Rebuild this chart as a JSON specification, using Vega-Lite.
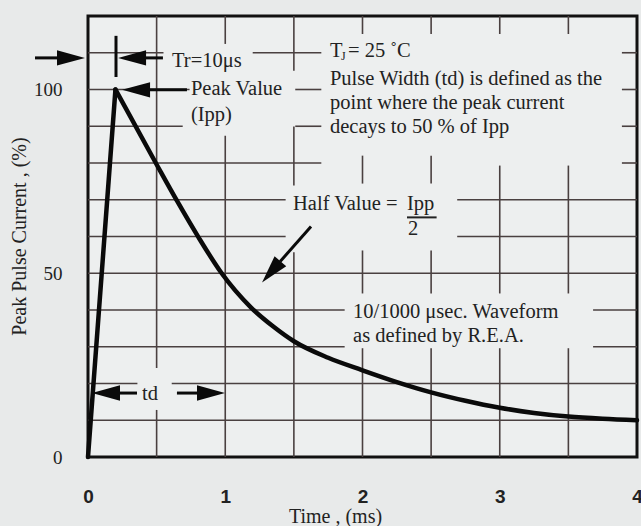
{
  "$schema": "https://vega.github.io/schema/vega-lite/v6.json",
  "width": 549,
  "height": 441,
  "autosize": {"type": "none"},
  "padding": {"left": 88, "top": 16, "right": 4, "bottom": 69},
  "background": "#e8eaea",
  "config": {
    "view": {"stroke": "#111111", "strokeWidth": 3, "fill": "#edefef"},
    "font": "Liberation Serif"
  },
  "datasets": {
    "grid": [
      {"t": 0, "t2": 0.55, "v": 110, "v2": 110},
      {"t": 1.2, "t2": 1.7, "v": 110, "v2": 110},
      {"t": 3.89, "t2": 4, "v": 110, "v2": 110},
      {"t": 0, "t2": 0.74, "v": 100, "v2": 100},
      {"t": 1.51, "t2": 1.7, "v": 100, "v2": 100},
      {"t": 3.89, "t2": 4, "v": 100, "v2": 100},
      {"t": 0, "t2": 0.69, "v": 90, "v2": 90},
      {"t": 1.51, "t2": 1.7, "v": 90, "v2": 90},
      {"t": 3.89, "t2": 4, "v": 90, "v2": 90},
      {"t": 0, "t2": 1.7, "v": 80, "v2": 80},
      {"t": 3.89, "t2": 4, "v": 80, "v2": 80},
      {"t": 0, "t2": 1.44, "v": 70, "v2": 70},
      {"t": 2.69, "t2": 4, "v": 70, "v2": 70},
      {"t": 0, "t2": 1.44, "v": 60, "v2": 60},
      {"t": 2.69, "t2": 4, "v": 60, "v2": 60},
      {"t": 0, "t2": 4, "v": 50, "v2": 50},
      {"t": 0, "t2": 1.87, "v": 40, "v2": 40},
      {"t": 3.68, "t2": 4, "v": 40, "v2": 40},
      {"t": 0, "t2": 1.87, "v": 30, "v2": 30},
      {"t": 3.68, "t2": 4, "v": 30, "v2": 30},
      {"t": 0, "t2": 0.36, "v": 20, "v2": 20},
      {"t": 0.61, "t2": 4, "v": 20, "v2": 20},
      {"t": 0, "t2": 4, "v": 10, "v2": 10},
      {"t": 0.5, "t2": 0.5, "v": 0, "v2": 12.8},
      {"t": 0.5, "t2": 0.5, "v": 24.2, "v2": 120},
      {"t": 1, "t2": 1, "v": 0, "v2": 87.4},
      {"t": 1, "t2": 1, "v": 112.4, "v2": 120},
      {"t": 1.5, "t2": 1.5, "v": 0, "v2": 55.7},
      {"t": 1.5, "t2": 1.5, "v": 73.9, "v2": 89.9},
      {"t": 1.5, "t2": 1.5, "v": 105.1, "v2": 120},
      {"t": 2, "t2": 2, "v": 0, "v2": 29.6},
      {"t": 2, "t2": 2, "v": 44.5, "v2": 56.2},
      {"t": 2, "t2": 2, "v": 74.4, "v2": 82},
      {"t": 2, "t2": 2, "v": 115.1, "v2": 120},
      {"t": 2.5, "t2": 2.5, "v": 0, "v2": 29.6},
      {"t": 2.5, "t2": 2.5, "v": 44.5, "v2": 56.2},
      {"t": 2.5, "t2": 2.5, "v": 74.4, "v2": 82},
      {"t": 2.5, "t2": 2.5, "v": 115.1, "v2": 120},
      {"t": 3, "t2": 3, "v": 0, "v2": 29.6},
      {"t": 3, "t2": 3, "v": 44.5, "v2": 79.3},
      {"t": 3, "t2": 3, "v": 115.1, "v2": 120},
      {"t": 3.5, "t2": 3.5, "v": 0, "v2": 29.6},
      {"t": 3.5, "t2": 3.5, "v": 44.5, "v2": 79.3},
      {"t": 3.5, "t2": 3.5, "v": 115.1, "v2": 120}
    ],
    "curve": [
      {"part": "rise", "t": 0, "v": 0},
      {"part": "rise", "t": 0.2, "v": 100},
      {"part": "decay", "t": 0.2, "v": 100},
      {"part": "decay", "t": 0.5, "v": 79.6},
      {"part": "decay", "t": 0.65, "v": 69.6},
      {"part": "decay", "t": 0.8, "v": 60.1},
      {"part": "decay", "t": 0.97, "v": 50.2},
      {"part": "decay", "t": 1.19, "v": 40.6},
      {"part": "decay", "t": 1.35, "v": 35.5},
      {"part": "decay", "t": 1.5, "v": 31.5},
      {"part": "decay", "t": 1.75, "v": 27.0},
      {"part": "decay", "t": 2.0, "v": 23.6},
      {"part": "decay", "t": 2.25, "v": 20.4},
      {"part": "decay", "t": 2.5, "v": 17.6},
      {"part": "decay", "t": 2.75, "v": 15.3},
      {"part": "decay", "t": 3.0, "v": 13.4},
      {"part": "decay", "t": 3.25, "v": 12.0},
      {"part": "decay", "t": 3.5, "v": 11.0},
      {"part": "decay", "t": 3.75, "v": 10.4},
      {"part": "decay", "t": 4.0, "v": 10.0}
    ],
    "shafts": [
      {"t": -0.386, "t2": -0.18, "v": 108.6, "v2": 108.6},
      {"t": 0.204, "t2": 0.204, "v": 103.4, "v2": 114.6},
      {"t": 0.4, "t2": 0.546, "v": 108.6, "v2": 108.6},
      {"t": 0.44, "t2": 0.721, "v": 99.9, "v2": 99.9},
      {"t": 1.4, "t2": 1.625, "v": 53.2, "v2": 62.7},
      {"t": 0.21, "t2": 0.357, "v": 17.4, "v2": 17.4},
      {"t": 0.648, "t2": 0.81, "v": 17.4, "v2": 17.4}
    ],
    "heads": [
      {"t": -0.022, "v": 108.6, "ang": 0},
      {"t": 0.219, "v": 108.6, "ang": 180},
      {"t": 0.248, "v": 99.9, "ang": 180},
      {"t": 1.268, "v": 47.5, "ang": 131},
      {"t": 0.029, "v": 17.4, "ang": 180},
      {"t": 0.998, "v": 17.4, "ang": 0}
    ],
    "underline": [
      {"t": 2.324, "t2": 2.54, "v": 65.2, "v2": 65.2}
    ],
    "notes": [
      {"t": 0.612, "v": 107.8, "label": "Tr=10μs"},
      {"t": 0.75, "v": 100.1, "label": "Peak Value"},
      {"t": 0.75, "v": 93.1, "label": "(Ipp)"},
      {"t": 1.763, "v": 110.5, "label": "T"},
      {"t": 1.894, "v": 110.5, "label": "= 25 ˚C"},
      {"t": 1.763, "v": 102.9, "label": "Pulse Width (td) is defined as the"},
      {"t": 1.763, "v": 96.3, "label": "point where the peak current"},
      {"t": 1.763, "v": 89.8, "label": "decays to 50 % of Ipp"},
      {"t": 1.494, "v": 68.8, "label": "Half Value ="},
      {"t": 2.324, "v": 68.8, "label": "Ipp"},
      {"t": 2.331, "v": 62.0, "label": "2"},
      {"t": 1.931, "v": 39.5, "label": "10/1000 μsec. Waveform"},
      {"t": 1.931, "v": 32.9, "label": "as defined by R.E.A."},
      {"t": 0.393, "v": 17.1, "label": "td"}
    ],
    "sub": [
      {"t": 1.843, "v": 109.1, "label": "J"}
    ]
  },
  "encoding": {
    "x": {
      "field": "t",
      "type": "quantitative",
      "title": "Time , (ms)",
      "scale": {"domain": [0, 4], "nice": false, "zero": false},
      "axis": {
        "values": [0, 1, 2, 3, 4],
        "grid": false,
        "ticks": false,
        "domain": false,
        "labelFont": "Liberation Sans",
        "labelFontSize": 19,
        "labelFontWeight": "bold",
        "labelColor": "#222222",
        "labelPadding": 39,
        "labelBaseline": "middle",
        "labelFlush": false,
        "labelOverlap": false,
        "titleFont": "Liberation Serif",
        "titleFontSize": 20,
        "titleFontWeight": "normal",
        "titleColor": "#222222",
        "titleX": 247,
        "titleY": 59,
        "titleAlign": "center",
        "titleBaseline": "middle"
      }
    },
    "y": {
      "field": "v",
      "type": "quantitative",
      "title": "Peak Pulse Current , (%)",
      "scale": {"domain": [0, 120], "nice": false},
      "axis": {
        "values": [0, 50, 100],
        "grid": false,
        "ticks": false,
        "domain": false,
        "labelFont": "Liberation Serif",
        "labelFontSize": 19,
        "labelColor": "#222222",
        "labelPadding": 26,
        "titleFont": "Liberation Serif",
        "titleFontSize": 20,
        "titleFontWeight": "normal",
        "titleColor": "#222222",
        "titleX": -69,
        "titleY": 220,
        "titleAngle": 270,
        "titleAlign": "center",
        "titleBaseline": "middle"
      }
    }
  },
  "layer": [
    {
      "data": {"name": "grid"},
      "mark": {"type": "rule", "color": "#4a4040", "strokeWidth": 1.6},
      "encoding": {"x2": {"field": "t2"}, "y2": {"field": "v2"}}
    },
    {
      "data": {"name": "curve"},
      "mark": {"type": "line", "color": "#0a0a0a", "strokeWidth": 4.5, "interpolate": "monotone", "strokeCap": "round"},
      "encoding": {"detail": {"field": "part"}}
    },
    {
      "data": {"name": "shafts"},
      "mark": {"type": "rule", "color": "#0a0a0a", "strokeWidth": 3},
      "encoding": {"x2": {"field": "t2"}, "y2": {"field": "v2"}}
    },
    {
      "data": {"name": "heads"},
      "mark": {"type": "point", "shape": "M0,0L-2,-0.55L-2,0.55Z", "size": 784, "filled": true, "color": "#0a0a0a", "opacity": 1, "strokeWidth": 0},
      "encoding": {"angle": {"field": "ang", "type": "quantitative", "scale": null}}
    },
    {
      "data": {"name": "underline"},
      "mark": {"type": "rule", "color": "#222222", "strokeWidth": 2},
      "encoding": {"x2": {"field": "t2"}, "y2": {"field": "v2"}}
    },
    {
      "data": {"name": "notes"},
      "mark": {"type": "text", "align": "left", "baseline": "middle", "font": "Liberation Serif", "fontSize": 20.5, "color": "#222222"},
      "encoding": {"text": {"field": "label"}}
    },
    {
      "data": {"name": "sub"},
      "mark": {"type": "text", "align": "left", "baseline": "middle", "font": "Liberation Serif", "fontSize": 12, "color": "#222222"},
      "encoding": {"text": {"field": "label"}}
    }
  ]
}
